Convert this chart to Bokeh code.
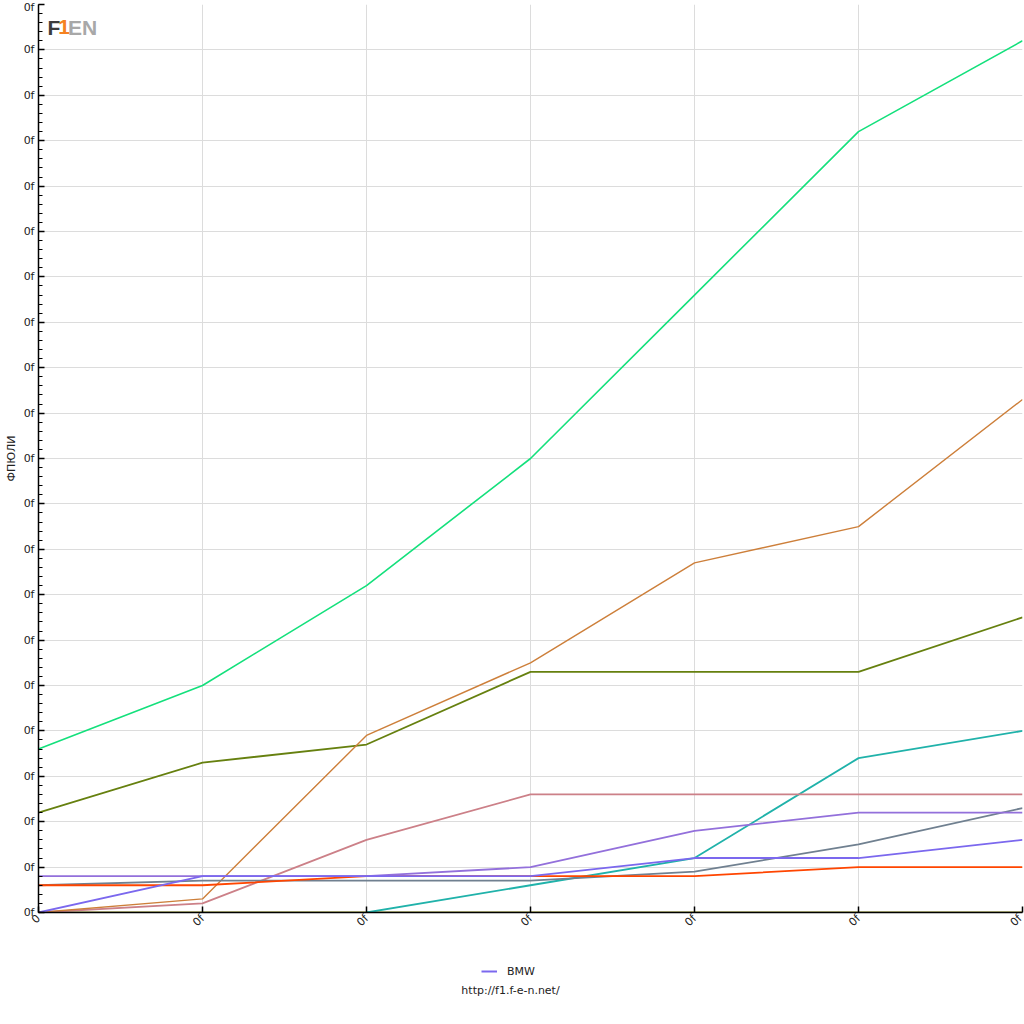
import math
from bokeh.plotting import figure
from bokeh.layouts import column
from bokeh.models import Range1d, FixedTicker, Legend, LegendItem, Label
from bokeh.embed import file_html
from bokeh.resources import INLINE

nan = float("nan")

races = [0, 1, 2, 3, 4, 5, 6]
x_tick_labels = ["0", "0f", "0f", "0f", "0f", "0f", "0f"]
y_ticks = [0, 10, 20, 30, 40, 50, 60, 70, 80, 90, 100,
           110, 120, 130, 140, 150, 160, 170, 180, 190, 200]
y_tick_label = "0f"
y_title = "ФПЮЛИ"
footer = "http://f1.f-e-n.net/"

zero_line = [0, 0, 0, 0, 0, 0, 0]
green = [36, 50, 72, 100, 136, 172, 192]
olive = [22, 33, 37, 53, 53, 53, 65]
teal = [nan, nan, 0, 6, 12, 34, 40]
pink = [0, 2, 16, 26, 26, 26, 26]
orange = [0, 3, 39, 55, 77, 85, 113]
gray = [6, 7, 7, 7, 9, 15, 23]
red = [6, 6, 8, 8, 8, 10, 10]
purple = [8, 8, 8, 10, 18, 22, 22]
bmw = [0, 8, 8, 8, 12, 12, 16]

FONT = "DejaVu Sans"
BMW_COLOR = "#7b68ee"

p = figure(width=1024, height=942, output_backend="svg", toolbar_location=None,
           x_range=Range1d(0, 6), y_range=Range1d(0, 200),
           min_border_left=38, min_border_right=2, min_border_top=4,
           min_border_bottom=30, outline_line_color=None)

p.line(races, zero_line, line_color="#8a8a10", line_width=2)
p.line(races, green, line_color="#14e07c", line_width=1.6)
p.line(races, olive, line_color="#66800f", line_width=1.8)
p.line(races, teal, line_color="#20b2aa", line_width=1.8)
p.line(races, pink, line_color="#cc8088", line_width=1.8)
p.line(races, orange, line_color="#cd7f3a", line_width=1.4)
p.line(races, gray, line_color="#708090", line_width=1.8)
p.line(races, red, line_color="#ff4500", line_width=1.8)
p.line(races, purple, line_color="#9370db", line_width=1.8)
p.line(races, bmw, line_color=BMW_COLOR, line_width=1.8)

# axes
p.xaxis.ticker = FixedTicker(ticks=races)
p.xaxis.major_label_overrides = {t: lab for t, lab in zip(races, x_tick_labels)}
p.xaxis.major_label_orientation = math.pi / 4
p.yaxis.ticker = FixedTicker(ticks=y_ticks,
                             minor_ticks=[v / 2 for v in range(0, 401, 4)])
p.yaxis.major_label_overrides = {t: y_tick_label for t in y_ticks}
p.yaxis.axis_label = y_title

for ax in (p.xaxis[0], p.yaxis[0]):
    ax.axis_line_color = "black"
    ax.axis_line_width = 1.5
    ax.major_tick_in = 6
    ax.major_tick_out = 0
    ax.minor_tick_in = 4
    ax.minor_tick_out = 0
    ax.major_tick_line_color = "black"
    ax.major_tick_line_width = 1.5
    ax.minor_tick_line_color = "black"
    ax.major_label_text_font = FONT
    ax.major_label_text_font_size = "11px"
    ax.major_label_text_color = "#222222"
    ax.axis_label_text_font = FONT
    ax.axis_label_text_font_size = "11px"
    ax.axis_label_text_font_style = "normal"
    ax.axis_label_text_color = "#222222"
p.xaxis.minor_tick_line_color = None
p.yaxis.major_label_standoff = 4
p.yaxis.axis_label_standoff = 3
p.xaxis.major_label_standoff = 4

p.xgrid.ticker = FixedTicker(ticks=races)
p.ygrid.ticker = FixedTicker(ticks=y_ticks)
p.grid.grid_line_color = "#dcdcdc"
p.grid.grid_line_width = 1

# logo
for txt, xx, col in (("F", 0.055, "#3c3c3c"), ("1", 0.12, "#f58220"),
                     ("EN", 0.18, "#a8a8a8")):
    p.add_layout(Label(x=xx, y=195, text=txt, text_font="Liberation Sans",
                       text_font_size="21px", text_font_style="bold",
                       text_color=col, text_baseline="alphabetic"))

# bottom strip: legend (only BMW is listed) and footer
p2 = figure(width=1024, height=60, output_backend="svg", toolbar_location=None,
            x_range=Range1d(38, 1022), y_range=Range1d(0, 60),
            x_axis_location=None, y_axis_location=None,
            min_border_left=38, min_border_right=2, min_border_top=0,
            min_border_bottom=0, outline_line_color=None)
p2.grid.visible = False
r_bmw_key = p2.line(races, bmw, line_color=BMW_COLOR, line_width=2, visible=False)

legend = Legend(items=[LegendItem(label="BMW", renderers=[r_bmw_key])],
                location=(443, 24), orientation="horizontal",
                border_line_color=None, background_fill_alpha=0,
                inactive_fill_alpha=0,
                label_text_font=FONT, label_text_font_size="11px",
                label_text_color="#222222", glyph_width=16, glyph_height=14,
                label_standoff=10, padding=4, margin=0)
p2.add_layout(legend)

p2.add_layout(Label(x=510, y=12, text=footer, text_font=FONT,
                    text_font_size="11px", text_color="#222222",
                    text_align="center", text_baseline="middle"))

open("out.html", "w").write(file_html(column(p, p2, spacing=0), INLINE))
